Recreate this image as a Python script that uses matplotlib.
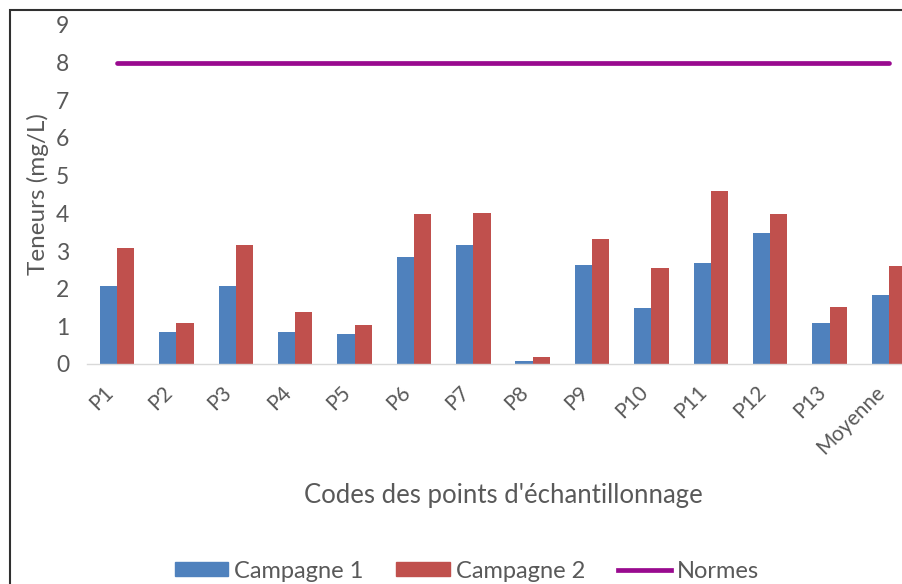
import matplotlib
matplotlib.use("Agg")
import matplotlib.pyplot as plt
from matplotlib.patches import Rectangle
from matplotlib.lines import Line2D
import numpy as np

categories = ["P1", "P2", "P3", "P4", "P5", "P6", "P7", "P8", "P9", "P10",
              "P11", "P12", "P13", "Moyenne"]
campagne1 = [2.08, 0.86, 2.08, 0.86, 0.79, 2.85, 3.17, 0.08, 2.64, 1.49,
             2.69, 3.49, 1.08, 1.83]
campagne2 = [3.07, 1.08, 3.17, 1.39, 1.03, 3.98, 4.02, 0.19, 3.31, 2.54,
             4.59, 3.98, 1.52, 2.60]
normes = [8] * len(categories)
yticks = list(range(0, 10))

blue = "#4F81BD"
red = "#C0504D"
purple = "#990A8F"
gray = "#595959"

plt.rcParams["font.family"] = ["Lato", "DejaVu Sans"]

fig = plt.figure(figsize=(9.03, 5.84), dpi=100)
ax = fig.add_axes([87.3 / 903, 220 / 584, 831.4 / 903, 339 / 584])

x = np.arange(len(categories))
w = 0.29
ax.bar(x - w / 2, campagne1, width=w, color=blue, label="Campagne 1")
ax.bar(x + w / 2, campagne2, width=w, color=red, label="Campagne 2")
ax.plot(x, normes, color=purple, lw=3.4, solid_capstyle="round", label="Normes")

ax.set_xlim(-0.5, len(categories) - 0.5)
ax.set_ylim(0, 9)
ax.set_yticks(yticks)
ax.set_yticklabels([str(t) for t in yticks], fontsize=16.5, color=gray)
ax.set_xticks(x)
ax.set_xticklabels(categories, rotation=45, ha="right", va="top",
                   fontsize=15, color=gray)
ax.tick_params(axis="both", length=0)
ax.tick_params(axis="y", pad=13)
ax.tick_params(axis="x", pad=13)
for s in ["top", "right", "left"]:
    ax.spines[s].set_visible(False)
ax.spines["bottom"].set_color("#D9D9D9")
ax.spines["bottom"].set_linewidth(1.0)

ax.set_ylabel("Teneurs (mg/L)", fontsize=17.5, color=gray, labelpad=5)
ax.set_xlabel("Codes des points d'échantillonnage", fontsize=18.5, color=gray,
              labelpad=18)

handles = [Rectangle((0, 0), 1, 1, color=blue),
           Rectangle((0, 0), 1, 1, color=red),
           Line2D([0], [0], color=purple, lw=3.4)]
fig.legend(handles, ["Campagne 1", "Campagne 2", "Normes"], loc="center",
           bbox_to_anchor=(467 / 903, 13 / 584), ncol=3, frameon=False,
           fontsize=17, labelcolor=gray, handlelength=2.25, handleheight=0.55,
           handletextpad=0.25, columnspacing=1.4)

fig.patches.append(Rectangle((10 / 903, -0.1), 1.2, (574 / 584) + 0.1,
                             transform=fig.transFigure, fill=False,
                             edgecolor="#303030", lw=1.5, zorder=10))

fig.savefig("out.png", dpi=100)
